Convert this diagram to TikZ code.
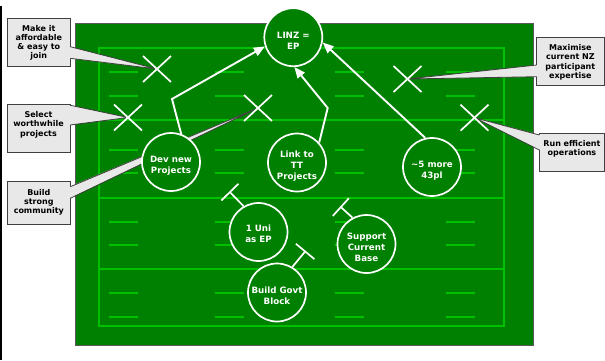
\documentclass[tikz,border=0pt]{standalone}
\usepackage{fontspec}
\setmainfont{DejaVu Sans}
\usetikzlibrary{arrows.meta,calc}
\definecolor{fieldgreen}{RGB}{0,128,0}
\definecolor{fieldmark}{RGB}{0,192,0}
\definecolor{callfill}{RGB}{232,232,232}
\definecolor{callline}{RGB}{64,64,64}
\newcommand\cbtext[3]{\parbox[c][#2][t]{#1}{\centering\fontsize{8}{9.1}\selectfont\bfseries\rule{0pt}{13.5pt}#3}}
\tikzset{
  fieldline/.style={draw=fieldmark, line width=2},
  callbox/.style={draw=callline, fill=callfill, line width=0.8, inner sep=0pt, outer sep=0pt, anchor=north west},
  wedgefill/.style={fill=callfill},
  wedgeline/.style={draw=callline, line width=0.8, line join=round},
  xmark/.pic={\draw[white, line width=1.7] (-14,-13) -- (14,13) (-14,13) -- (14,-13);},
  bubble/.style={circle, draw=white, fill=fieldgreen, line width=1.7, minimum size=58pt, inner sep=0pt},
  bubbletext/.style={text=white, font=\fontsize{8.7}{11}\selectfont\bfseries, align=center, inner sep=0pt},
  arrowline/.style={draw=white, line width=1.9, -{Triangle[length=11pt,width=9pt]}},
  blockline/.style={draw=white, line width=1.7, -{Bar[width=24pt]}},
}
\begin{document}
\begin{tikzpicture}[x=1pt,y=-1pt]
\useasboundingbox (0,0) rectangle (605,360);
\fill[white] (0,0) rectangle (605,360);
% slide edge
\draw[black, line width=2.4] (1.2,6) -- (1.2,360);
% field
\fill[fieldgreen] (75,23) rectangle (533,345);
\draw[black!65, line width=1] (75,23) rectangle (533,345);
\draw[fieldline] (99,48) rectangle (504,326);
\draw[fieldline] (99,120) -- (504,120);
\draw[fieldline] (99,198) -- (504,198);
\draw[fieldline] (99,269) -- (504,269);
\foreach \y in {72,96,150,173,222,245,293,317}
  \foreach \x in {109,215,335,446}
    \draw[fieldline] (\x,\y) -- ++(28.5,0);
% cross marks
\coordinate (x1) at (157,69);
\coordinate (x2) at (128,117.5);
\coordinate (x3) at (258,108);
\coordinate (x4) at (407.5,79);
\coordinate (x5) at (474.5,117.7);
% callouts
\node[callbox] (c1) at (7.3,18) {\cbtext{63pt}{48pt}{Make it\\affordable\\\& easy to\\join}};
\fill[wedgefill] ($(c1.north east)+(-1,28.7)$) -- (x1) -- ($(c1.north east)+(-1,40.3)$) -- cycle;
\draw[wedgeline] ($(c1.north east)+(0,28.7)$) -- (x1) -- ($(c1.north east)+(0,40.3)$);

\node[callbox] (c2) at (7,104.3) {\cbtext{63pt}{48pt}{Select\\worthwhile\\projects}};
\fill[wedgefill] ($(c2.north east)+(-1,0.9)$) -- (x2) -- ($(c2.north east)+(-1,20.7)$) -- cycle;
\draw[wedgeline] ($(c2.north east)+(0,0.9)$) -- (x2) -- ($(c2.north east)+(0,20.7)$);

\node[callbox] (c3) at (7.3,181.7) {\cbtext{63pt}{42.6pt}{Build\\strong\\community}};
\fill[wedgefill] ($(c3.north east)+(-1,5)$) -- (x3) -- ($(c3.north east)+(-1,16.6)$) -- cycle;
\draw[wedgeline] ($(c3.north east)+(0,5)$) -- (x3) -- ($(c3.north east)+(0,16.6)$);

\node[callbox] (c4) at (536.7,37.3) {\cbtext{67.3pt}{47.7pt}{Maximise\\current NZ\\participant\\expertise}};
\fill[wedgefill] ($(c4.north west)+(1,27.7)$) -- (x4) -- ($(c4.north west)+(1,39.4)$) -- cycle;
\draw[wedgeline] ($(c4.north west)+(0,27.7)$) -- (x4) -- ($(c4.north west)+(0,39.4)$);

\node[callbox] (c5) at (539.3,133.3) {\cbtext{65.3pt}{38.3pt}{Run efficient\\operations}};
\fill[wedgefill] ($(c5.north west)+(1,1.7)$) -- (x5) -- ($(c5.north west)+(1,16.7)$) -- cycle;
\draw[wedgeline] ($(c5.north west)+(0,1.7)$) -- (x5) -- ($(c5.north west)+(0,16.7)$);

\foreach \c in {x1,x2,x3,x4,x5} \pic at (\c) {xmark};
% bubbles
\node[bubble] (linz) at (293.3,37.2) {};
\node[bubble] (dev) at (171,162) {};
\node[bubble] (link) at (297,162.5) {};
\node[bubble] (more) at (432,167) {};
\node[bubble] (uni) at (258.5,232) {};
\node[bubble] (sup) at (366.5,244) {};
\node[bubble] (gov) at (277,292.5) {};
\node[bubbletext] (linz-t) at ([yshift=-3.5pt]linz.center) {LINZ =\\EP};
\node[bubbletext] (dev-t) at ([yshift=-3.5pt]dev.center) {Dev new\\Projects};
\node[bubbletext] (link-t) at ([yshift=-3.5pt]link.center) {Link to\\TT\\Projects};
\node[bubbletext] (more-t) at ([yshift=-3.5pt]more.center) {\textasciitilde5 more\\43pl};
\node[bubbletext] (uni-t) at ([yshift=-2pt]uni.center) {1 Uni\\as EP};
\node[bubbletext] (sup-t) at ([yshift=-3.5pt]sup.center) {Support\\Current\\Base};
\node[bubbletext] (gov-t) at ([yshift=-3pt]gov.center) {Build Govt\\Block};
% arrows to the goal
\coordinate (devbend) at (172,99);
\coordinate (linkbend) at (327.7,108);
\draw[arrowline] (dev.70) -- (devbend) -- (linz.198);
\draw[arrowline] (link.42) -- (linkbend) -- (linz.-88);
\draw[arrowline] (more.103) -- (linz.-10);
% blocked lines
\coordinate (unistop) at (229.3,191.5);
\coordinate (supstop) at (340.2,206.5);
\coordinate (govstop) at (305.7,250.8);
\draw[blockline] (uni.120) -- (unistop);
\draw[blockline] (sup.118) -- (supstop);
\draw[blockline] (gov.59) -- (govstop);
\end{tikzpicture}
\end{document}
